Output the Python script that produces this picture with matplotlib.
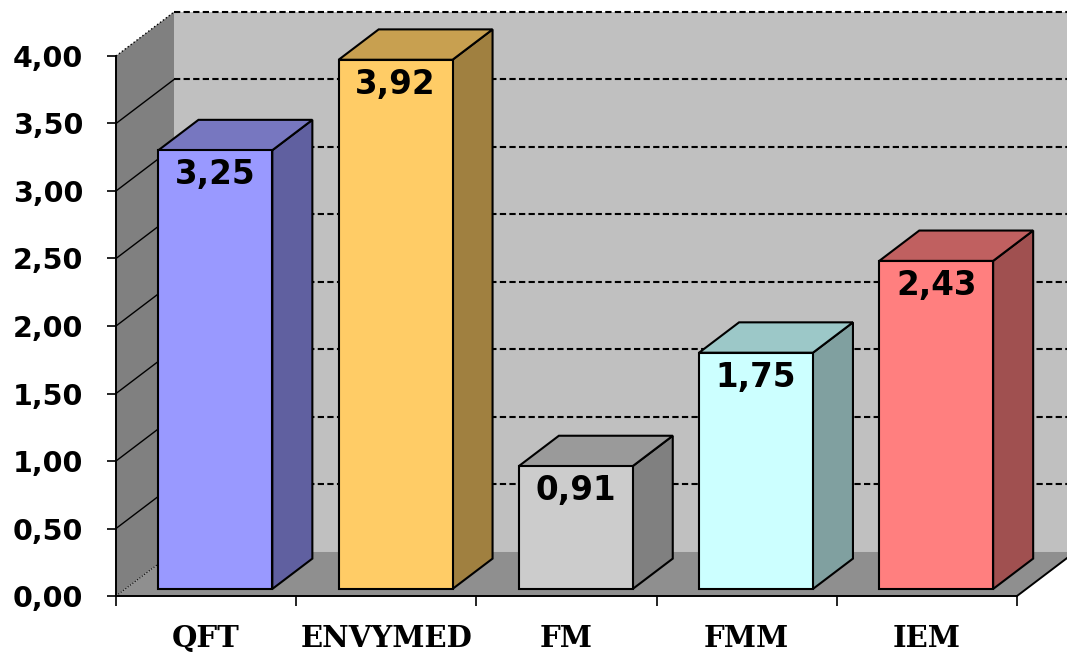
import numpy as np
import matplotlib
matplotlib.use("Agg")
import matplotlib.pyplot as plt
from matplotlib.patches import Polygon

# data
categories = ["QFT", "ENVYMED", "FM", "FMM", "IEM"]
values = [3.25, 3.92, 0.91, 1.75, 2.43]
front_colors = ["#9999FF", "#FFCC66", "#CCCCCC", "#CCFFFF", "#FF7F7F"]
top_colors = ["#7777C0", "#C8A050", "#9A9A9A", "#9CC8C8", "#C06060"]
side_colors = ["#6060A0", "#A08040", "#808080", "#80A0A0", "#A05050"]
yticks = np.arange(0, 4.01, 0.5)
ymax = 4.0

# pseudo 3d depth vector (x in category units, y in value units)
DX, DY = 0.322, 0.326
F0, F1 = 0.16, 0.85      # bar front / back depth fraction
HW = 0.316               # half bar width


def pt(x, v, f):
    return (x + f * DX, v + f * DY)


fig = plt.figure(figsize=(10.67, 6.52), dpi=100)
ax = fig.add_axes([0, 0, 1, 1])
ax.set_xlim(-1.1437, 4.7775)
ax.set_ylim(-0.4148, 4.4148)
ax.patch.set_visible(False)

n = len(categories)
x0, x1 = -0.5, n - 0.5

# walls and floor
ax.add_patch(Polygon([pt(x0, 0, 0), pt(x0, ymax, 0), pt(x0, ymax, 1), pt(x0, 0, 1)],
                     closed=True, fc="#808080", ec="none", zorder=1))
ax.add_patch(Polygon([pt(x0, 0, 1), pt(x1, 0, 1), pt(x1, ymax, 1), pt(x0, ymax, 1)],
                     closed=True, fc="#C0C0C0", ec="none", zorder=1))
ax.add_patch(Polygon([pt(x0, 0, 0), pt(x1, 0, 0), pt(x1, 0, 1), pt(x0, 0, 1)],
                     closed=True, fc="#8F8F8F", ec="none", zorder=1))

# gridlines: dashed on the back wall, diagonal on the side wall
for v in yticks[1:]:
    a, b = pt(x0, v, 1), pt(x1 + 0.2, v, 1)
    ax.plot([a[0], b[0]], [a[1], b[1]], color="black", lw=1.5,
            ls=(0, (3, 1.6)), zorder=2)
    a, b = pt(x0, v, 0), pt(x0, v, 1)
    ax.plot([a[0], b[0]], [a[1], b[1]], color="black", lw=1.0,
            ls=":" if v == ymax else "-", zorder=2)
a, b = pt(x0, 0, 0), pt(x0, 0, 1)
ax.plot([a[0], b[0]], [a[1], b[1]], color="black", lw=0.8, ls=":", zorder=2)
a, b = pt(x1, 0, 0), pt(x1, 0, 1)
ax.plot([a[0], b[0]], [a[1], b[1]], color="black", lw=1.4, zorder=2)

# bars
for i, (val, fc, tc, sc) in enumerate(zip(values, front_colors, top_colors, side_colors)):
    l, r = i - HW, i + HW
    front = [pt(l, 0, F0), pt(r, 0, F0), pt(r, val, F0), pt(l, val, F0)]
    side = [pt(r, 0, F0), pt(r, 0, F1), pt(r, val, F1), pt(r, val, F0)]
    top = [pt(l, val, F0), pt(r, val, F0), pt(r, val, F1), pt(l, val, F1)]
    for poly, c in ((side, sc), (top, tc), (front, fc)):
        ax.add_patch(Polygon(poly, closed=True, fc=c, ec="black", lw=1.5,
                             joinstyle="miter", zorder=3))
    cx, cy = pt(i, val, F0)
    ax.text(cx, cy - 0.06, f"{val:.2f}".replace(".", ","), ha="center", va="top",
            fontsize=23.5, fontweight="bold", family="DejaVu Sans", zorder=4)

# axes
for s in ("top", "right"):
    ax.spines[s].set_visible(False)
ax.spines["left"].set_position(("data", x0))
ax.spines["bottom"].set_position(("data", 0))
ax.spines["left"].set_bounds(0, ymax)
ax.spines["bottom"].set_bounds(x0, x1)
for s in ("left", "bottom"):
    ax.spines[s].set_linewidth(1.4)
    ax.spines[s].set_zorder(5)

ax.set_yticks(yticks)
ax.set_yticklabels([f"{v:.2f}".replace(".", ",") for v in yticks],
                   fontsize=20.5, fontweight="bold", family="DejaVu Sans")
ax.tick_params(axis="y", direction="out", length=6.5, width=1.2, pad=17)

ax.set_xticks(np.arange(n))
ax.set_xticklabels(categories, fontsize=21, fontweight="bold", family="DejaVu Serif")
ax.set_xticks(np.arange(n + 1) - 0.5, minor=True)
ax.tick_params(axis="x", which="major", length=0, pad=20)
ax.tick_params(axis="x", which="minor", direction="out", length=7, width=1.2)

fig.savefig("out.png", dpi=100)
